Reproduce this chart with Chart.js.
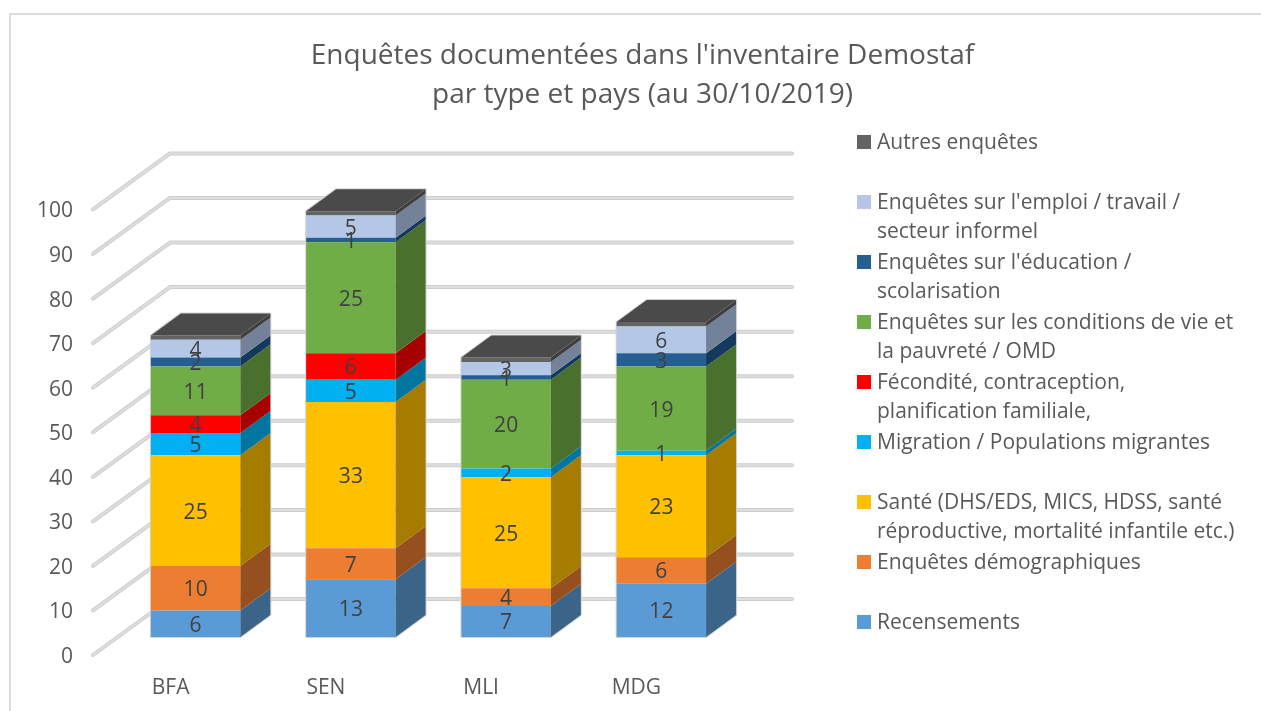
<!DOCTYPE html>
<html lang="fr">
<head>
<meta charset="utf-8">
<title>Enquêtes Demostaf</title>
<style>
  html, body { margin: 0; padding: 0; background: #fff; }
  canvas { display: block; }
</style>
<script src="https://cdn.jsdelivr.net/npm/chart.js@4"></script>
</head>
<body>
<canvas id="myChart" width="1261" height="711"></canvas>
<script>
const titleLines = ["Enquêtes documentées dans l'inventaire Demostaf", "par type et pays (au 30/10/2019)"];
const categories = ["BFA", "SEN", "MLI", "MDG"];
const yTicks = [0, 10, 20, 30, 40, 50, 60, 70, 80, 90, 100];

const recensements = [6, 13, 7, 12];
const demographiques = [10, 7, 4, 6];
const sante = [25, 33, 25, 23];
const migration = [5, 5, 2, 1];
const fecondite = [4, 6, 0, 0];
const conditions = [11, 25, 20, 19];
const education = [2, 1, 1, 3];
const emploi = [4, 5, 3, 6];
const autres = [1, 1, 1, 1];

const seriesNames = [
  ["Recensements"],
  ["Enquêtes démographiques"],
  ["Santé (DHS/EDS, MICS, HDSS, santé", "réproductive, mortalité infantile etc.)"],
  ["Migration / Populations migrantes"],
  ["Fécondité, contraception,", "planification familiale,"],
  ["Enquêtes sur les conditions de vie et", "la pauvreté / OMD"],
  ["Enquêtes sur l'éducation /", "scolarisation"],
  ["Enquêtes sur l'emploi / travail /", "secteur informel"],
  ["Autres enquêtes"]
];
const seriesValues = [recensements, demographiques, sante, migration, fecondite, conditions, education, emploi, autres];
const frontColors = ["#5b9bd5", "#ed7d31", "#ffc000", "#00b0f0", "#ff0000", "#70ad47", "#255e91", "#b4c7e7", "#636363"];
const sideColors = ["#3a6488", "#965020", "#a67c00", "#0076a0", "#a60000", "#4a702e", "#14395c", "#748299", "#3f3f3f"];

const FONT = '"Open Sans", sans-serif';
const TEXT = "#595959";
const DEPTH_X = 30, DEPTH_Y = 22;      // bar depth
const WALL_X = 77, WALL_Y = 56;        // floor depth of the grid
const WALL_RIGHT = 792;

// gridlines on the side wall and back wall, plus the pale edge behind each column
const wallGrid = {
  id: "wallGrid",
  beforeDatasetsDraw(chart) {
    const ctx = chart.ctx;
    const y = chart.scales.y;
    const left = 93;
    ctx.save();
    ctx.lineCap = "round";
    ctx.lineJoin = "round";
    y.ticks.forEach(t => {
      const py = y.getPixelForValue(t.value);
      [["#cdcdcd", 4], ["#dedede", 2]].forEach(s => {
        ctx.strokeStyle = s[0];
        ctx.lineWidth = s[1];
        ctx.beginPath();
        ctx.moveTo(left, py);
        ctx.lineTo(left + WALL_X, py - WALL_Y);
        ctx.lineTo(WALL_RIGHT, py - WALL_Y);
        ctx.stroke();
      });
    });
    const bottoms = chart.getDatasetMeta(0).data;
    const tops = chart.getDatasetMeta(chart.data.datasets.length - 1).data;
    ctx.strokeStyle = "#d4d4d4";
    ctx.lineWidth = 2;
    tops.forEach((el, j) => {
      const l = el.x - el.width / 2, r = el.x + el.width / 2;
      const base = bottoms[j].base;
      ctx.beginPath();
      ctx.moveTo(l, base);
      ctx.lineTo(r, base);
      ctx.lineTo(r + DEPTH_X, base - DEPTH_Y);
      ctx.lineTo(r + DEPTH_X, el.y - DEPTH_Y);
      ctx.lineTo(l + DEPTH_X, el.y - DEPTH_Y);
      ctx.lineTo(l, el.y);
      ctx.closePath();
      ctx.stroke();
    });
    ctx.restore();
  }
};

// right side and top of every bar, then the value labels
const bars3d = {
  id: "bars3d",
  afterDatasetsDraw(chart) {
    const ctx = chart.ctx;
    ctx.save();
    chart.data.datasets.forEach((ds, i) => {
      chart.getDatasetMeta(i).data.forEach(el => {
        const right = el.x + el.width / 2;
        ctx.fillStyle = sideColors[i];
        ctx.beginPath();
        ctx.moveTo(right, el.y);
        ctx.lineTo(right + DEPTH_X, el.y - DEPTH_Y);
        ctx.lineTo(right + DEPTH_X, el.base - DEPTH_Y);
        ctx.lineTo(right, el.base);
        ctx.closePath();
        ctx.fill();
      });
    });
    const last = chart.data.datasets.length - 1;
    chart.getDatasetMeta(last).data.forEach(el => {
      const left = el.x - el.width / 2;
      ctx.fillStyle = "#4a4a4a";
      ctx.beginPath();
      ctx.moveTo(left, el.y);
      ctx.lineTo(left + DEPTH_X, el.y - DEPTH_Y);
      ctx.lineTo(left + el.width + DEPTH_X, el.y - DEPTH_Y);
      ctx.lineTo(left + el.width, el.y);
      ctx.closePath();
      ctx.fill();
    });
    ctx.fillStyle = "#404040";
    ctx.font = "21px " + FONT;
    ctx.textAlign = "center";
    ctx.textBaseline = "middle";
    chart.data.datasets.forEach((ds, i) => {
      if (i === last) return;
      chart.getDatasetMeta(i).data.forEach((el, j) => {
        if (!ds.data[j]) return;
        ctx.fillText(ds.data[j], el.x, (el.y + el.base) / 2 + 2);
      });
    });
    ctx.restore();
  }
};

// legend on a fixed 60px pitch, top series first, and the chart frame
const sideLegend = {
  id: "sideLegend",
  afterDraw(chart) {
    const ctx = chart.ctx;
    ctx.save();
    ctx.strokeStyle = "#dcdcdc";
    ctx.lineWidth = 2;
    ctx.strokeRect(10, 14, 1300, 800);
    ctx.font = "21px " + FONT;
    ctx.textBaseline = "middle";
    chart.data.datasets.forEach((ds, i) => {
      const rowY = 143 + 60 * (chart.data.datasets.length - 1 - i);
      ctx.fillStyle = ds.backgroundColor;
      ctx.fillRect(857, rowY - 8, 14, 14);
      ctx.fillStyle = TEXT;
      seriesNames[i].forEach((line, k) => ctx.fillText(line, 877, rowY + k * 29));
    });
    ctx.restore();
  }
};

new Chart(document.getElementById("myChart"), {
  type: "bar",
  data: {
    labels: categories,
    datasets: seriesValues.map((values, i) => ({
      label: seriesNames[i].join(" "),
      data: values,
      backgroundColor: frontColors[i],
      yAxisID: "yBars",
      categoryPercentage: 1,
      barPercentage: 0.576
    }))
  },
  plugins: [wallGrid, bars3d, sideLegend],
  options: {
    responsive: false,
    animation: false,
    layout: { autoPadding: false, padding: { left: 24, right: 0, top: 0, bottom: 0 } },
    plugins: {
      legend: { display: false },
      tooltip: { enabled: false },
      title: {
        display: true,
        text: titleLines,
        color: TEXT,
        font: { family: FONT, size: 28, weight: "normal", lineHeight: 1.4 },
        padding: { top: 36, bottom: 95 }
      }
    },
    scales: {
      x: {
        stacked: true,
        grid: { display: false },
        border: { display: false },
        ticks: { color: TEXT, font: { family: FONT, size: 21 }, padding: 12, labelOffset: -25, maxRotation: 0 },
        afterFit(scale) { scale.height = 56; }
      },
      y: {
        position: "left",
        min: 0,
        max: 100,
        grid: { display: false },
        border: { display: false },
        ticks: { color: TEXT, font: { family: FONT, size: 21 }, padding: 37, labelOffset: 2 },
        afterBuildTicks(scale) { scale.ticks = yTicks.map(v => ({ value: v })); },
        afterFit(scale) { scale.width = 94; }
      },
      // slightly tighter than y, and the bars stand in front of the axis zero
      yBars: {
        position: "right",
        stacked: true,
        min: -4.05,
        max: 96.4,
        grid: { display: false },
        border: { display: false },
        ticks: { display: false },
        afterFit(scale) { scale.width = 522; }
      }
    }
  }
});
</script>
</body>
</html>
